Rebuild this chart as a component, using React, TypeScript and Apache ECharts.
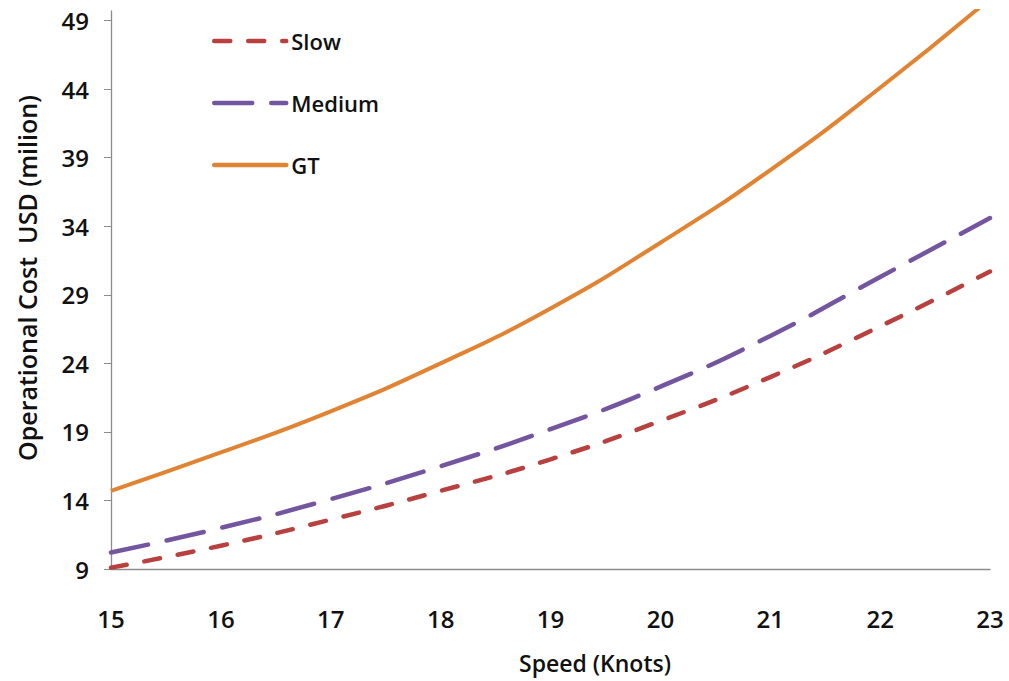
import React, { useEffect, useRef } from "react";
import * as echarts from "echarts";

const speeds = [15, 16, 17, 18, 19, 20, 21, 22, 23];
const slowCost = [9.1, 10.7, 12.6, 14.7, 17.0, 19.8, 23.0, 26.7, 30.7];
const mediumCost = [10.2, 12.0, 14.1, 16.5, 19.2, 22.3, 26.0, 30.3, 34.6];
const gtCost = [14.7, 17.5, 20.5, 24.0, 28.0, 32.8, 38.1, 44.1, 50.6];
const yTickValues = [9, 14, 19, 24, 29, 34, 39, 44, 49];
const seriesNames = ["Slow", "Medium", "GT"];
const xTitle = "Speed (Knots)";
const yTitle = "Operational Cost  USD (milion)";

const FONT = "'Open Sans', 'Liberation Sans', sans-serif";

export default function App() {
  const ref = useRef<HTMLDivElement>(null);
  useEffect(() => {
    document.body.style.margin = "0";
    const chart = echarts.init(ref.current!, null, { renderer: "svg" });
    const pair = (vals: number[]) => speeds.map((s, i) => [s, vals[i]]);
    chart.setOption({
      animation: false,
      backgroundColor: "#ffffff",
      grid: { left: 111, right: 19, top: 11, bottom: 112 },
      legend: {
        orient: "vertical",
        left: 207,
        top: 25,
        itemWidth: 72,
        itemHeight: 14,
        itemGap: 40,
        data: seriesNames,
        itemStyle: { opacity: 0 },
        lineStyle: { width: 4.5, cap: "round" },
        textStyle: { fontFamily: FONT, fontSize: 22, fontWeight: 600, color: "#111" },
      },
      xAxis: {
        type: "value",
        min: 15,
        max: 23,
        interval: 1,
        axisLine: { lineStyle: { color: "#8c8c8c", width: 1.3 } },
        axisTick: { show: false },
        splitLine: { show: false },
        axisLabel: {
          margin: 37,
          fontFamily: FONT,
          fontSize: 24,
          fontWeight: 600,
          color: "#111",
        },
      },
      yAxis: {
        type: "value",
        min: 9,
        max: 49.7,
        axisLine: { show: true, lineStyle: { color: "#8c8c8c", width: 1.3 } },
        axisTick: { show: true, length: 7, customValues: yTickValues, lineStyle: { color: "#8c8c8c" } },
        splitLine: { show: false },
        axisLabel: {
          customValues: yTickValues,
          margin: 22,
          fontFamily: FONT,
          fontSize: 24,
          fontWeight: 600,
          color: "#111",
        },
      },
      series: [
        {
          name: seriesNames[0],
          type: "line",
          smooth: true,
          symbol: "none",
          data: pair(slowCost),
          lineStyle: { color: "#b8413f", width: 4.5, type: [16, 18], cap: "round" },
          itemStyle: { color: "#b8413f" },
        },
        {
          name: seriesNames[1],
          type: "line",
          smooth: true,
          symbol: "none",
          data: pair(mediumCost),
          lineStyle: { color: "#7456a0", width: 4.5, type: [38, 19], cap: "round" },
          itemStyle: { color: "#7456a0" },
        },
        {
          name: seriesNames[2],
          type: "line",
          smooth: true,
          symbol: "none",
          data: pair(gtCost),
          lineStyle: { color: "#e08332", width: 4 },
          itemStyle: { color: "#e08332" },
        },
      ],
      graphic: [
        {
          type: "text",
          x: 595,
          y: 663,
          style: {
            text: xTitle,
            fontFamily: FONT,
            fontSize: 23,
            fontWeight: 600,
            fill: "#111",
            align: "center",
            verticalAlign: "middle",
          },
        },
        {
          type: "text",
          x: 27,
          y: 278,
          rotation: Math.PI / 2,
          style: {
            text: yTitle,
            fontFamily: FONT,
            fontSize: 25,
            fontWeight: 600,
            fill: "#111",
            align: "center",
            verticalAlign: "middle",
          },
        },
      ],
    });
    return () => chart.dispose();
  }, []);
  return <div ref={ref} style={{ position: "absolute", left: 0, top: 0, width: 1009, height: 681 }} />;
}
